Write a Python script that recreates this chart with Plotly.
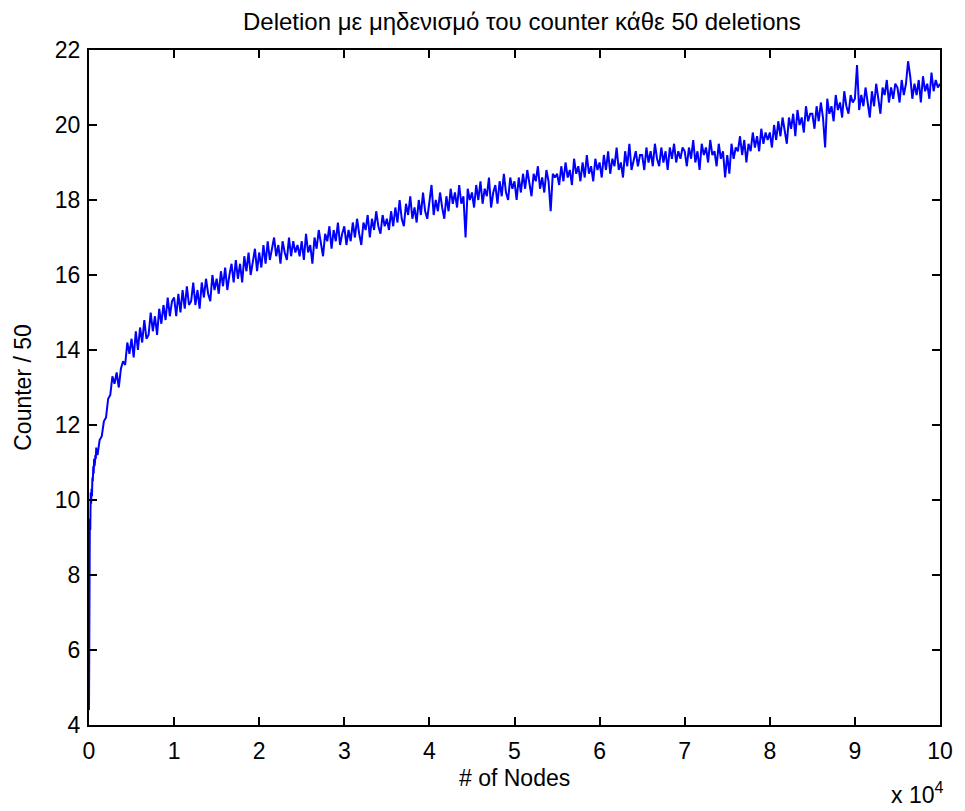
import plotly.graph_objects as go

# Early segment (every 50 nodes)
x_early = [0, 50, 100, 150, 200, 250, 300, 350, 400, 450,
           500, 550, 600, 650, 700, 750, 800, 850, 900, 950]
y_early = [4.4, 8.6, 9.5, 9.2, 10.2, 9.9, 10.3, 10.1, 10.6, 10.5,
           10.9, 10.7, 11.1, 10.9, 11.0, 11.2, 11.1, 11.4, 11.2, 11.3]

# Main segment: every 250 nodes starting at 1000; each row = 5000 nodes block
main_start = 1000
main_step = 250
y_main = (
    # 1000 .. 4750
    [11.2, 11.6, 11.7, 12.1, 12.2, 12.7, 12.8, 13.3, 13.1, 13.4, 13.0, 13.5, 13.7, 13.6, 14.2, 13.9] +
    # 5000 .. 9750
    [14.3, 13.8, 14.5, 14.0, 14.6, 14.2, 14.8, 14.3, 14.4, 15.0, 14.5, 14.9, 14.4, 15.1, 14.7, 15.2, 14.8, 15.4, 14.9, 15.3] +
    # 10000 .. 14750
    [15.4, 14.9, 15.5, 15.0, 15.6, 15.1, 15.7, 15.2, 15.3, 15.8, 15.2, 15.6, 15.1, 15.8, 15.4, 15.9, 15.5, 15.3, 16.0, 15.6] +
    # 15000 .. 19750
    [15.9, 15.5, 16.1, 15.7, 16.2, 15.6, 16.0, 16.3, 15.8, 16.4, 15.9, 16.3, 15.8, 16.5, 16.1, 16.6, 16.0, 16.4, 16.7, 16.1] +
    # 20000 .. 24750
    [16.6, 16.2, 16.8, 16.3, 16.9, 16.4, 16.7, 17.0, 16.5, 16.8, 16.3, 16.9, 16.6, 16.4, 17.0, 16.5, 16.9, 16.6, 16.8, 16.5] +
    # 25000 .. 29750
    [16.9, 16.4, 17.1, 16.6, 16.8, 16.3, 17.0, 16.7, 17.2, 16.8, 16.5, 17.1, 16.9, 17.3, 16.7, 17.2, 16.9, 17.4, 16.8, 17.1] +
    # 30000 .. 34750
    [17.3, 16.8, 17.2, 16.9, 17.4, 17.0, 17.5, 17.1, 16.8, 17.4, 17.2, 17.6, 17.0, 17.5, 17.2, 17.7, 17.3, 17.1, 17.6, 17.3] +
    # 35000 .. 39750
    [17.5, 17.2, 17.7, 17.3, 17.8, 17.4, 18.0, 17.5, 17.3, 17.9, 17.6, 18.1, 17.5, 17.8, 17.4, 18.0, 17.6, 18.2, 17.7, 17.5] +
    # 40000 .. 44750
    [17.9, 18.4, 17.6, 18.0, 17.7, 18.2, 17.8, 17.5, 18.1, 17.7, 18.3, 17.9, 18.2, 17.8, 18.4, 17.9, 18.1, 17.0, 18.3, 18.0] +
    # 45000 .. 49750
    [18.2, 17.8, 18.4, 18.0, 18.5, 17.9, 18.3, 18.1, 18.6, 17.8, 18.2, 18.4, 17.9, 18.5, 18.1, 18.7, 18.2, 18.0, 18.6, 18.3] +
    # 50000 .. 54750
    [18.5, 18.0, 18.6, 18.2, 18.7, 18.3, 18.8, 18.4, 18.1, 18.7, 18.5, 18.9, 18.3, 18.6, 18.2, 18.8, 18.5, 17.7, 18.7, 18.6] +
    # 55000 .. 59750
    [18.7, 18.4, 18.9, 18.5, 19.0, 18.6, 18.8, 18.4, 19.1, 18.7, 18.9, 18.5, 19.0, 18.6, 19.2, 18.7, 18.9, 18.5, 19.1, 18.8] +
    # 60000 .. 64750
    [19.0, 18.6, 19.2, 18.8, 19.3, 18.7, 19.1, 18.9, 19.4, 18.8, 19.0, 18.6, 19.3, 18.9, 19.5, 18.8, 19.1, 19.3, 18.9, 19.2] +
    # 65000 .. 69750
    [19.2, 18.8, 19.4, 19.0, 19.3, 18.9, 19.5, 19.1, 18.9, 19.4, 19.0, 19.3, 18.8, 19.4, 19.1, 19.5, 19.0, 19.3, 19.1, 19.4] +
    # 70000 .. 74750
    [19.3, 18.9, 19.4, 19.1, 19.6, 19.0, 19.3, 18.8, 19.5, 19.2, 19.4, 19.0, 19.6, 19.2, 19.3, 18.9, 19.5, 19.1, 19.3, 18.6] +
    # 75000 .. 79750
    [19.2, 18.7, 19.5, 19.1, 19.4, 19.3, 19.7, 19.2, 19.6, 19.0, 19.5, 19.3, 19.8, 19.4, 19.7, 19.3, 19.9, 19.5, 19.8, 19.6] +
    # 80000 .. 84750
    [19.8, 19.4, 20.0, 19.6, 20.1, 19.7, 20.2, 19.8, 19.5, 20.2, 19.9, 20.3, 19.7, 20.4, 20.0, 20.2, 19.8, 20.5, 20.1, 20.3] +
    # 85000 .. 89750
    [20.3, 19.9, 20.5, 20.1, 20.6, 20.2, 19.4, 20.7, 20.3, 20.5, 20.1, 20.8, 20.4, 20.6, 20.2, 20.9, 20.5, 20.3, 20.8, 20.6] +
    # 90000 .. 94750
    [20.7, 21.6, 20.4, 20.8, 20.5, 21.0, 20.6, 20.2, 20.9, 20.5, 21.1, 20.7, 20.3, 21.0, 20.8, 21.2, 20.6, 21.0, 20.7, 21.1] +
    # 95000 .. 99750
    [21.0, 20.6, 21.2, 20.8, 21.1, 21.7, 21.3, 20.7, 21.1, 20.8, 21.2, 20.6, 21.3, 20.9, 21.1, 20.7, 21.4, 20.9, 21.2, 21.0] +
    # 100000
    [21.1]
)
x_main = [main_start + main_step * i for i in range(len(y_main))]

x_nodes = x_early + x_main
counter = y_early + y_main

x_tick_vals = [0, 10000, 20000, 30000, 40000, 50000, 60000, 70000, 80000, 90000, 100000]
x_tick_text = ["0", "1", "2", "3", "4", "5", "6", "7", "8", "9", "10"]
y_tick_vals = [4, 6, 8, 10, 12, 14, 16, 18, 20, 22]

FONT = "Liberation Sans, Arial, sans-serif"
W, H = 957, 803  # page body has an 8px margin in the browser

fig = go.Figure()
fig.add_trace(go.Scatter(
    x=x_nodes, y=counter, mode="lines",
    line=dict(color="#0000FF", width=2),
    showlegend=False,
))

axis_common = dict(
    showline=True, linecolor="black", linewidth=2, mirror="ticks",
    ticks="inside", ticklen=8, tickwidth=1.5, tickcolor="black",
    showgrid=False, zeroline=False,
    tickfont=dict(family=FONT, size=23, color="black"),
)

fig.update_xaxes(range=[0, 100000], tickvals=x_tick_vals, ticktext=x_tick_text,
                 ticklabelstandoff=4, **axis_common)
fig.update_yaxes(range=[4, 22], tickvals=y_tick_vals,
                 ticklabelstandoff=2, **axis_common)

fig.update_layout(
    width=W, height=H,
    paper_bgcolor="white", plot_bgcolor="white",
    margin=dict(l=81, r=21, t=42, b=86),
    title=dict(text="Deletion με μηδενισμό του counter κάθε 50 deletions",
               font=dict(family=FONT, size=24, color="black"),
               x=0.537, xanchor="center", xref="container",
               y=1 - 14 / H, yanchor="middle", yref="container"),
    annotations=[
        dict(text="# of Nodes", xref="paper", yref="paper",
             x=0.5, y=-53 / 675, xanchor="center", yanchor="middle", showarrow=False,
             font=dict(family=FONT, size=23, color="black")),
        dict(text="Counter / 50", xref="paper", yref="paper", textangle=-90,
             x=-67 / 854.5, y=0.5, xanchor="center", yanchor="middle", showarrow=False,
             font=dict(family=FONT, size=23, color="black")),
        dict(text="x 10<sup>4</sup>", xref="paper", yref="paper",
             x=1.006, y=-0.101, xanchor="right", yanchor="middle", showarrow=False,
             font=dict(family=FONT, size=23, color="black")),
    ],
)

fig.write_html("out.html")
